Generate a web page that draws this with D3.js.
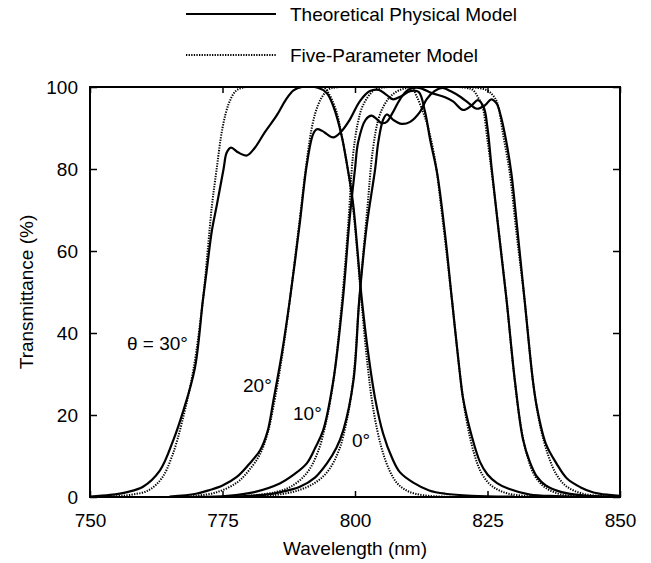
<!DOCTYPE html>
<html><head><meta charset="utf-8">
<script src="https://cdn.jsdelivr.net/npm/d3@7"></script>
<style>
body{margin:0;background:#fff}
text{font-family:"Liberation Sans",Arial,Helvetica,sans-serif;fill:#000}
</style>
</head><body>
<svg id="c" width="651" height="563"></svg>
<script>
// ---- data ----
const xTicks = [750, 775, 800, 825, 850];
const yTicks = [0, 20, 40, 60, 80, 100];
const legendLabels = ["Theoretical Physical Model", "Five-Parameter Model"];
const angleLabels = ["θ = 30°", "20°", "10°", "0°"];
const xTitle = "Wavelength (nm)";
const yTitle = "Transmittance (%)";

// Theoretical physical model (solid) – [wavelength nm, transmittance %]
const theory30 = [[750,0.1],[753.8,0.5],[757,1.2],[760,2.5],[763.2,6.5],[765.7,13.8],[767.6,21],[769.8,31.5],[771.3,48],[772,55],[773,65],[773.9,71],[775.2,80],[775.8,84],[776.6,85.2],[778,84],[779.6,83.3],[781,85],[783,89],[785.2,93],[787,97],[788.4,99.2],[790,100],[793,99.8],[794.7,98.5],[796,95],[797.5,88],[798.5,81],[799.6,72],[801.3,48],[802.5,35],[803.8,24],[805.3,15.5],[807,9.5],[808.5,6],[811,3.5],[814,1.6],[817,0.8],[822,0.3],[830,0.1]];
const theory20 = [[765,0.1],[770,0.8],[772.6,1.7],[775,2.8],[777.7,4.9],[780,8],[782.1,11.4],[783.5,16],[784.6,23.5],[786.2,35],[787.7,48],[789.6,67],[790.9,81],[792.1,88.5],[792.8,89.7],[793.8,89.3],[794.7,88.5],[795.9,87.7],[797.3,89],[799,92],[800.9,96.5],[802.8,99],[804.5,99.3],[806,98],[807.2,97],[808.8,97.8],[810.4,99],[812,98.8],[813.2,94],[814.2,87],[815.5,79],[817,64],[818.3,48],[819.8,30],[820.4,24],[822,15],[823.6,8.5],[825,5.5],[826.8,3.4],[829,2],[833,0.6],[838,0.2],[845,0.05]];
const theory10 = [[770,0.05],[776,0.3],[781,1.2],[785.8,3.3],[788.5,5.5],[790.9,8.2],[792.5,12],[794,16.3],[795.9,28.3],[797.7,48],[799,68],[800,80],[800.6,86.6],[802,92],[803.1,93],[804,92.3],[805,91.2],[806,91.5],[807,93.5],[808.5,97],[810,99.3],[812,99.8],[814.5,98.5],[817,97.5],[818.5,96.5],[820.4,94.4],[822,95.5],[823.2,96.8],[824.3,95],[825,90],[825.8,80],[827,66],[828.6,48],[830.2,28],[831.7,14],[833,8.5],[834.3,5],[836,2.8],[839,1.2],[843,0.4],[848,0.1]];
const theory0 = [[775,0.05],[782.7,0.5],[786,1.2],[789.6,2.5],[792.5,4.8],[794.7,8.2],[796.5,12],[797.8,16.3],[799.7,28.3],[800.8,48],[802.2,66],[803.8,80],[804.4,86.6],[805.3,92],[806,93.3],[807.2,92],[808.8,91],[810.4,91.5],[812.3,94],[813.5,97],[815,99],[816.5,99.8],[818,99],[820,97.5],[821.5,96],[823,94.7],[824.5,95.5],[825.7,97],[826.7,96],[827.5,93],[828.5,87],[829.5,79],[830.5,67],[832,48],[833.6,28],[834.3,22],[836,13],[838,8.2],[840,4.5],[842.5,2.4],[845,1.1],[848,0.5],[850,0.3]];

// Five-parameter model (dotted)
const model30 = [[750,0],[755,0.2],[758,0.6],[761,1.6],[763.5,4.5],[765.5,10],[767.5,19],[769.5,31],[771.3,48],[772.2,60],[773,71],[773.9,80],[775,90],[776.2,96],[777.5,99],[779,99.9],[794,99.9],[795,98.5],[796.5,94],[797.5,88],[798.5,81],[799.6,71],[801.2,48],[802.3,33],[803.5,21],[805,12],[806.5,6.5],[808,3.3],[810,1.4],[813,0.4],[818,0.05]];
const model20 = [[765,0],[770,0.3],[774,1.2],[777.7,3.5],[780,6.5],[782.1,10.5],[783.5,15.5],[784.6,22],[786.2,34],[787.7,48],[789.6,68],[790.9,82],[792,91],[793,95.5],[794,98],[795,99.4],[796.5,99.9],[810.5,99.9],[811.7,97.5],[812.8,94],[813.6,91],[815,83],[816.5,68],[818.3,48],[819.8,30],[821,19],[822.5,10.5],[824,5.5],[826,2.5],[829,0.8],[834,0.1]];
const model10 = [[775,0],[780,0.3],[785,1.2],[788,2.6],[791,6],[793,11],[794.5,18],[796,29],[797.7,50],[798.8,68],[799.6,83],[800.5,91],[801.5,95.5],[803.4,99],[805,99.8],[821,99.8],[822.3,99.2],[823.2,97.5],[824,95.5],[825,87],[826,77],[827.3,63],[828.6,48],[830,30],[831.2,18],[832.5,10],[834,5],[836,2.2],[839,0.6],[843,0.1]];
const model0 = [[780,0.05],[785,0.5],[789,1.5],[792.5,3.5],[795,6.5],[797,11.5],[798.5,19],[799.7,29],[800.8,48],[802.3,70],[803.4,85],[804.5,92.5],[805.7,96],[807.2,98.3],[809.8,99.8],[823,99.8],[824.9,99.2],[826,98],[826.8,96.3],[828,88],[829.2,79],[830.5,64],[832,48],[833.6,28],[835,17],[836.5,10],[838,5.5],[840,2.5],[843,0.8],[847,0.2],[850,0.05]];

// ---- drawing ----
const svg = d3.select("#c");
const x = d3.scaleLinear().domain([750, 850]).range([90, 620]);
const y = d3.scaleLinear().domain([0, 100]).range([497, 87]);

svg.append("defs").append("clipPath").attr("id", "clip")
  .append("rect").attr("x", 90).attr("y", 86).attr("width", 530).attr("height", 412);

const line = d3.line().x(d => x(d[0])).y(d => y(d[1])).curve(d3.curveCatmullRom.alpha(0.5));
const plot = svg.append("g").attr("clip-path", "url(#clip)");

[model30, model20, model10, model0].forEach(s => {
  plot.append("path").attr("d", line(s)).attr("fill", "none")
    .attr("stroke", "#000").attr("stroke-width", 2).attr("stroke-dasharray", "1.3,1.3");
});
[theory30, theory20, theory10, theory0].forEach(s => {
  plot.append("path").attr("d", line(s)).attr("fill", "none")
    .attr("stroke", "#000").attr("stroke-width", 2.2);
});

// frame
svg.append("rect").attr("x", 90).attr("y", 87).attr("width", 530).attr("height", 410)
  .attr("fill", "none").attr("stroke", "#000").attr("stroke-width", 2);

const styleAxis = g => {
  g.select(".domain").remove();
  g.selectAll(".tick line").attr("stroke", "#000").attr("stroke-width", 1.5);
  g.selectAll(".tick text").style("font-size", "19px").attr("fill", "#000");
};
svg.append("g").attr("transform", "translate(0,497)")
  .call(d3.axisBottom(x).tickValues(xTicks).tickSize(-6).tickPadding(17).tickFormat(d3.format("d")))
  .call(styleAxis);
svg.append("g").attr("transform", "translate(0,87)")
  .call(d3.axisTop(x).tickValues(xTicks).tickSize(-6).tickFormat(""))
  .call(styleAxis);
svg.append("g").attr("transform", "translate(90,0)")
  .call(d3.axisLeft(y).tickValues(yTicks).tickSize(-7).tickPadding(12).tickFormat(d3.format("d")))
  .call(styleAxis);
svg.append("g").attr("transform", "translate(620,0)")
  .call(d3.axisRight(y).tickValues(yTicks).tickSize(-7).tickFormat(""))
  .call(styleAxis);
svg.selectAll(".tick text").attr("font-family", null);

// axis titles
svg.append("text").attr("x", 355).attr("y", 555).attr("text-anchor", "middle")
  .style("font-size", "19px").text(xTitle);
svg.append("text").attr("transform", "translate(33,292) rotate(-90)").attr("text-anchor", "middle")
  .style("font-size", "19px").text(yTitle);

// angle labels
const labelPos = [[127, 350], [243, 392], [293, 420], [352, 447]];
angleLabels.forEach((t, i) => {
  svg.append("text").attr("x", labelPos[i][0]).attr("y", labelPos[i][1])
    .style("font-size", "19px").text(t);
});

// legend
const leg = svg.append("g");
leg.append("line").attr("x1", 186).attr("x2", 276).attr("y1", 14).attr("y2", 14)
  .attr("stroke", "#000").attr("stroke-width", 1.8);
leg.append("line").attr("x1", 186).attr("x2", 276).attr("y1", 55).attr("y2", 55)
  .attr("stroke", "#000").attr("stroke-width", 1.8).attr("stroke-dasharray", "1.3,1.3");
leg.append("text").attr("x", 290).attr("y", 21).style("font-size", "19px").text(legendLabels[0]);
leg.append("text").attr("x", 290).attr("y", 62).style("font-size", "19px").text(legendLabels[1]);
</script>
</body></html>
